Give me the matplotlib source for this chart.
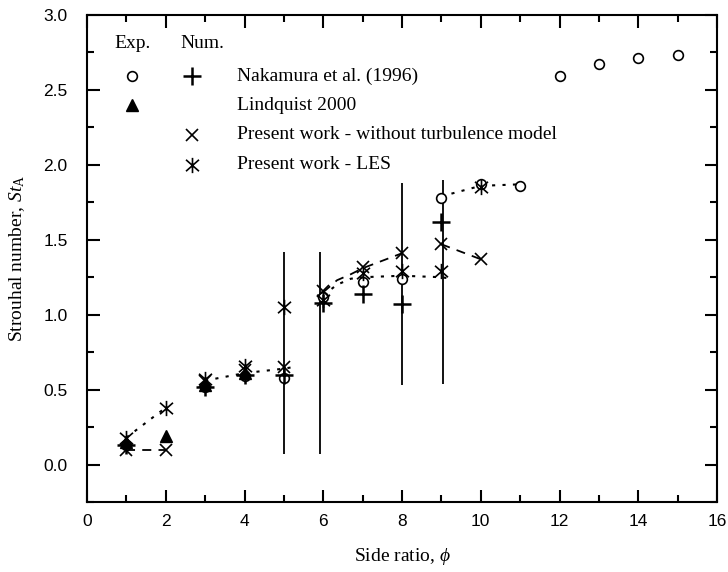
import numpy as np
import matplotlib.pyplot as plt
from matplotlib.path import Path

plt.rcParams['font.family'] = 'Liberation Serif'
plt.rcParams['mathtext.fontset'] = 'custom'
plt.rcParams['mathtext.rm'] = 'Liberation Serif'
plt.rcParams['mathtext.it'] = 'Liberation Serif:italic'

# Эксперимент (кружки)
exp_x = [1, 3, 4, 5, 6, 7, 8, 9, 10, 11, 12, 13, 14, 15]
exp_st = [0.13, 0.52, 0.59, 0.58, 1.12, 1.22, 1.24, 1.78, 1.87, 1.86, 2.59, 2.67, 2.71, 2.73]

# Lindquist 2000 (треугольники)
lind_x = [1, 2, 3, 4]
lind_st = [0.15, 0.19, 0.53, 0.61]

# Nakamura et al. (1996) (плюсы)
nak_x = [1, 3, 4, 5, 6, 7, 8, 9]
nak_st = [0.13, 0.52, 0.60, 0.60, 1.08, 1.14, 1.07, 1.62]

# Present work - without turbulence model (крестики)
lam_x = [1, 2, 3, 4, 5, 6, 7, 8, 9, 10]
lam_st = [0.10, 0.10, 0.56, 0.63, 0.65, 1.16, 1.32, 1.41, 1.47, 1.37]

# Present work - LES (звездочки)
les_x = [1, 2, 3, 4, 5, 6, 7, 8, 9, 10]
les_st = [0.18, 0.38, 0.57, 0.66, 1.05, 1.10, 1.28, 1.29, 1.29, 1.85]

# Вертикальные линии
bar_x = [5, 5.93, 8, 9.04]
bar_lo = [0.07, 0.07, 0.53, 0.54]
bar_hi = [1.42, 1.42, 1.88, 1.90]

# Пунктирные / штриховые кривые
dash_curves = [
    ([1, 2], [0.10, 0.10]),
    ([6.0, 6.35, 6.7, 7.0, 7.5, 8.0], [1.15, 1.23, 1.27, 1.31, 1.36, 1.41]),
    ([9, 10], [1.47, 1.37]),
]
dot_curves = [
    ([1, 2], [0.18, 0.38]),
    ([3, 4, 5, 5.35], [0.56, 0.61, 0.64, 0.655]),
    ([6.0, 6.35, 6.7, 7, 8, 9, 9.25], [1.13, 1.20, 1.24, 1.25, 1.26, 1.25, 1.24]),
    ([9, 10, 11], [1.79, 1.86, 1.87]),
]

# маркер-звездочка: вертикаль + две диагонали
star = Path([(0, -1), (0, 1), (-0.85, -0.75), (0.85, 0.75), (-0.85, 0.75), (0.85, -0.75)],
            [Path.MOVETO, Path.LINETO, Path.MOVETO, Path.LINETO, Path.MOVETO, Path.LINETO])

fig = plt.figure(figsize=(7.28, 5.72), dpi=100)
ax = fig.add_axes([87 / 728, 1 - 502 / 572, 630 / 728, 487 / 572])

ax.vlines(bar_x, bar_lo, bar_hi, color='black', lw=1.3)
for cx, cy in dash_curves:
    ax.plot(cx, cy, color='black', ls=(0, (5, 4)), lw=1.3)
for cx, cy in dot_curves:
    ax.plot(cx, cy, color='black', ls=(0, (1.5, 3.5)), lw=1.5)

ax.plot(exp_x, exp_st, 'o', mfc='white', mec='black', ms=7, mew=1.2, ls='none')
ax.plot(lind_x, lind_st, '^', color='black', ms=9, ls='none')
ax.plot(nak_x, nak_st, '+', color='black', ms=13, mew=1.8, ls='none')
ax.plot(lam_x, lam_st, 'x', color='black', ms=9, mew=1.2, ls='none')
ax.plot(les_x, les_st, marker=star, color='black', ms=11, mew=1.2, ls='none')

ax.set_xlim(0, 16)
ax.set_ylim(-0.25, 3.0)
ax.set_xticks(np.arange(0, 17, 2))
ax.set_xticks(np.arange(1, 16, 2), minor=True)
ax.set_yticks(np.arange(0, 3.01, 0.5))
ax.set_yticks(np.arange(-0.25, 3.0, 0.5), minor=True)
ax.set_yticklabels(['%.1f' % v for v in np.arange(0, 3.01, 0.5)])
ax.tick_params(which='both', direction='in', top=True, right=True, width=1.5)
ax.tick_params(which='major', length=9, labelsize=12.5)
ax.tick_params(axis='x', which='major', pad=9)
ax.tick_params(axis='y', which='major', pad=14)
ax.tick_params(which='minor', length=5)
for lab in ax.get_xticklabels() + ax.get_yticklabels():
    lab.set_family('Liberation Sans')
for s in ax.spines.values():
    s.set_linewidth(1.5)

ax.set_xlabel(r'Side ratio, $\phi$', fontsize=14, labelpad=12)
ax.set_ylabel(r'Strouhal number, $\mathit{St}_{\rm A}$', fontsize=14, labelpad=12)

# легенда
tr = ax.transAxes
ax.text(0.073, 0.9425, 'Exp.', transform=tr, fontsize=14, ha='center', va='center')
ax.text(0.1825, 0.9425, 'Num.', transform=tr, fontsize=14, ha='center', va='center')
rows = [0.8747, 0.815, 0.7536, 0.692]
names = ['Nakamura et al. (1996)', 'Lindquist 2000',
         'Present work - without turbulence model', 'Present work - LES']
for yy, name in zip(rows, names):
    ax.text(0.238, yy, name, transform=tr, fontsize=14, va='center')
ax.plot([0.0714], [rows[0]], 'o', mfc='white', mec='black', ms=7, mew=1.2, transform=tr)
ax.plot([0.1667], [rows[0]], '+', color='black', ms=13, mew=1.8, transform=tr)
ax.plot([0.0714], [rows[1]], '^', color='black', ms=9, transform=tr)
ax.plot([0.1667], [rows[2]], 'x', color='black', ms=9, mew=1.2, transform=tr)
ax.plot([0.1667], [rows[3]], marker=star, color='black', ms=11, mew=1.2, transform=tr)

fig.savefig('out.png', dpi=100)
